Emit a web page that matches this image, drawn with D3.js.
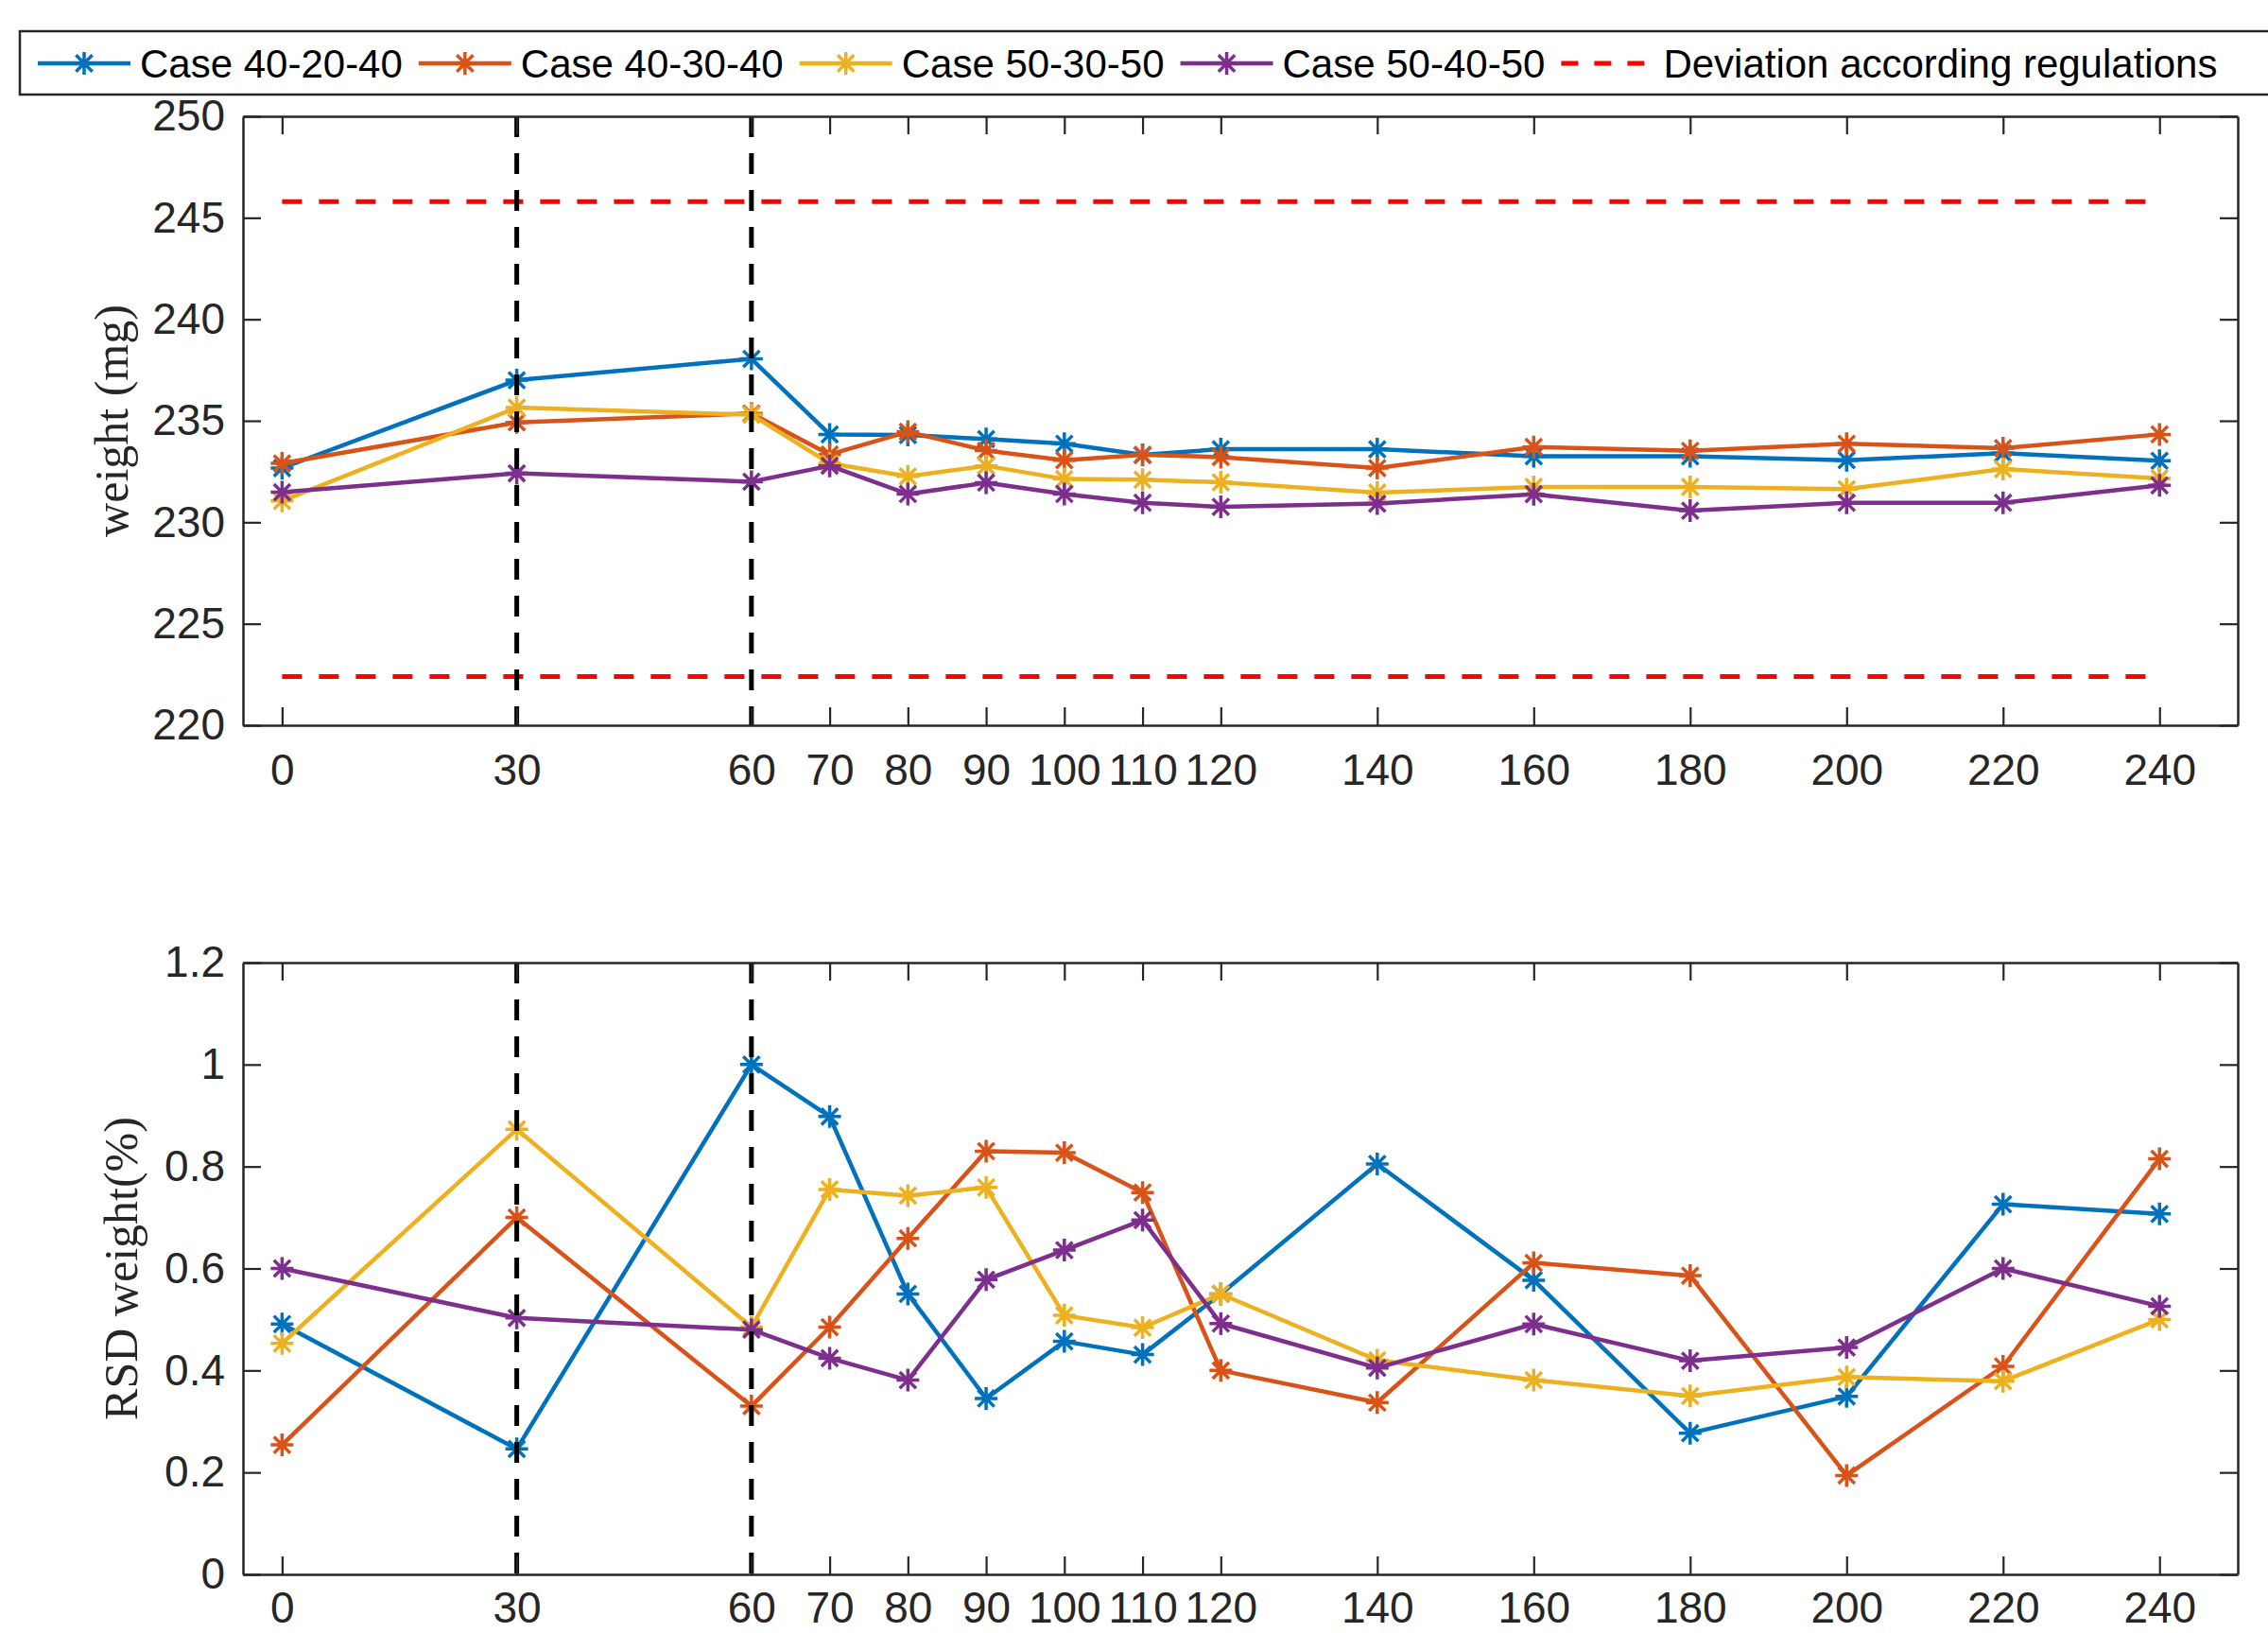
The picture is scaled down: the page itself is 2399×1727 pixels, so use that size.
<!DOCTYPE html>
<html><head><meta charset="utf-8">
<script src="https://cdn.jsdelivr.net/npm/d3@7"></script>
<style>body{margin:0;background:#fff;}svg{display:block;}</style>
</head><body>
<svg id="c" width="2399" height="1727"></svg>
<script>
const xVals = [0,30,60,70,80,90,100,110,120,140,160,180,200,220,240];
const xTicks = [0,30,60,70,80,90,100,110,120,140,160,180,200,220,240];
const seriesNames = ["Case 40-20-40","Case 40-30-40","Case 50-30-50","Case 50-40-50"];
const devName = "Deviation according regulations";
const colors = ["#0072BD","#D95319","#EDB120","#7E2F8E"];

const weight402040 = [232.67,237.0,238.05,234.33,234.3,234.1,233.87,233.32,233.6,233.6,233.25,233.25,233.06,233.4,233.03];
const weight403040 = [232.9,234.92,235.36,233.34,234.46,233.53,233.06,233.32,233.21,232.67,233.71,233.52,233.87,233.65,234.33];
const weight503050 = [231.05,235.65,235.3,232.9,232.26,232.78,232.13,232.1,231.97,231.46,231.74,231.74,231.63,232.62,232.16];
const weight504050 = [231.48,232.41,232.0,232.78,231.39,231.95,231.39,230.96,230.76,230.92,231.38,230.57,230.96,230.96,231.82];

const rsd402040 = [0.491,0.246,1.0,0.898,0.55,0.345,0.457,0.431,0.55,0.805,0.577,0.277,0.349,0.726,0.707];
const rsd403040 = [0.254,0.70,0.33,0.485,0.659,0.830,0.827,0.749,0.40,0.337,0.611,0.586,0.194,0.408,0.815];
const rsd503050 = [0.453,0.873,0.485,0.755,0.743,0.759,0.508,0.484,0.550,0.42,0.381,0.35,0.387,0.379,0.5];
const rsd504050 = [0.60,0.503,0.48,0.424,0.381,0.578,0.636,0.695,0.492,0.405,0.491,0.419,0.445,0.6,0.526];

const devLimits = [245.8, 222.4];
const phaseLines = [30, 60];
const weightTicks = [220,225,230,235,240,245,250];
const rsdTicks = [0,0.2,0.4,0.6,0.8,1,1.2];

const svg = d3.select("#c");
const L = 257, R = 2367;
const axColor = "#262626";
const tickFont = "'Liberation Sans', Arial, sans-serif";

const x = d3.scaleLinear().domain([-5,250]).range([L,R]);

function asterisk(r){
  const d = r*0.72;
  return `M0,${-r}L0,${r}M${-r},0L${r},0M${-d},${-d}L${d},${d}M${-d},${d}L${d},${-d}`;
}

function panel(top, bottom, yDomain, yTicks, yFmt, data, title, withDev, xPad){
  const y = d3.scaleLinear().domain(yDomain).range([bottom, top]);
  const g = svg.append("g");
  const line = d3.line().x((d,i)=>x(xVals[i])).y(d=>y(d));
  data.forEach((arr,k)=>{
    g.append("path").datum(arr).attr("d",line).attr("fill","none")
      .attr("stroke",colors[k]).attr("stroke-width",4.5).attr("stroke-linejoin","round");
    g.selectAll(null).data(arr).enter().append("path")
      .attr("d",asterisk(12))
      .attr("transform",(d,i)=>`translate(${x(xVals[i])},${y(d)})`)
      .attr("stroke",colors[k]).attr("stroke-width",3.5).attr("fill","none");
  });
  if(withDev){
    devLimits.forEach(v=>{
      g.append("line").attr("x1",x(0)).attr("x2",x(240)).attr("y1",y(v)).attr("y2",y(v))
        .attr("stroke","#FF0000").attr("stroke-width",5).attr("stroke-dasharray","21,18");
    });
  }
  phaseLines.forEach(v=>{
    g.append("line").attr("x1",x(v)).attr("x2",x(v)).attr("y1",top).attr("y2",bottom)
      .attr("stroke","#000").attr("stroke-width",5).attr("stroke-dasharray","22,17");
  });
  const ax = [
    svg.append("g").attr("transform",`translate(0,${bottom})`)
      .call(d3.axisBottom(x).tickValues(xTicks).tickFormat(d3.format("d")).tickSizeInner(-19).tickSizeOuter(0).tickPadding(xPad)),
    svg.append("g").attr("transform",`translate(0,${top})`)
      .call(d3.axisTop(x).tickValues(xTicks).tickFormat("").tickSizeInner(-19).tickSizeOuter(0)),
    svg.append("g").attr("transform",`translate(${L},0)`)
      .call(d3.axisLeft(y).tickValues(yTicks).tickFormat(yFmt).tickSizeInner(-19).tickSizeOuter(0).tickPadding(19)),
    svg.append("g").attr("transform",`translate(${R},0)`)
      .call(d3.axisRight(y).tickValues(yTicks).tickFormat("").tickSizeInner(-19).tickSizeOuter(0))
  ];
  ax.forEach(a=>{
    a.select(".domain").attr("stroke",axColor).attr("stroke-width",2.5);
    a.selectAll(".tick line").attr("stroke",axColor).attr("stroke-width",2.2);
    a.selectAll(".tick text").attr("fill",axColor).style("font-family",tickFont).style("font-size","46px");
  });
  svg.append("text")
    .attr("transform",`translate(${title.x},${(top+bottom)/2}) rotate(-90)`)
    .attr("text-anchor","middle").attr("dominant-baseline","middle")
    .style("font-family","'Liberation Serif','DejaVu Serif',serif").style("font-size","50px")
    .attr("fill",axColor).text(title.text);
}

panel(123, 767, [220,250], weightTicks, d3.format("d"),
  [weight402040,weight403040,weight503050,weight504050], {x:124,text:"weight (mg)"}, true, 30);
panel(1018, 1665, [0,1.2], rsdTicks, d=>String(+d.toFixed(1)),
  [rsd402040,rsd403040,rsd503050,rsd504050], {x:134,text:"RSD weight(%)"}, false, 18);

const lg = svg.append("g");
lg.append("rect").attr("x",21).attr("y",33).attr("width",2500).attr("height",67)
  .attr("fill","#fff").attr("stroke",axColor).attr("stroke-width",2.5);
let cx = 40;
const cy = 67;
const items = seriesNames.map((n,i)=>({name:n,color:colors[i],dev:false})).concat([{name:devName,color:"#FF0000",dev:true}]);
items.forEach(it=>{
  if(it.dev){
    lg.append("line").attr("x1",cx).attr("x2",cx+98).attr("y1",cy).attr("y2",cy)
      .attr("stroke",it.color).attr("stroke-width",5).attr("stroke-dasharray","18,17");
  } else {
    lg.append("line").attr("x1",cx).attr("x2",cx+98).attr("y1",cy).attr("y2",cy)
      .attr("stroke",it.color).attr("stroke-width",4.5);
    lg.append("path").attr("d",asterisk(12)).attr("transform",`translate(${cx+49},${cy})`)
      .attr("stroke",it.color).attr("stroke-width",3.5).attr("fill","none");
  }
  const t = lg.append("text").attr("x",cx+108).attr("y",cy).attr("dy","0.36em")
    .style("font-family",tickFont).style("font-size","42px").attr("fill","#000").text(it.name);
  cx = cx + 108 + t.node().getComputedTextLength() + 17;
});
</script>
</body></html>
